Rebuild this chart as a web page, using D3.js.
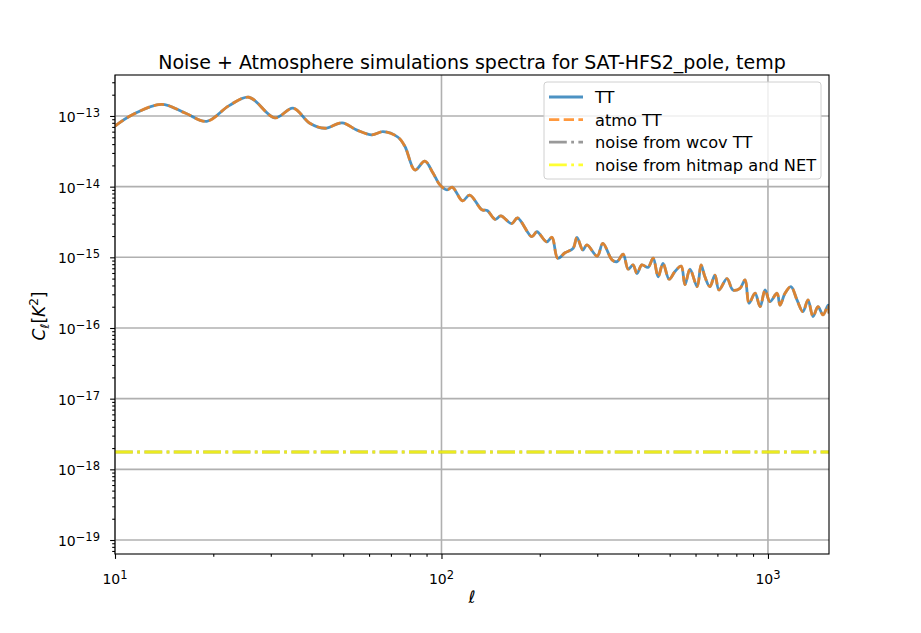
<!DOCTYPE html>
<html>
<head>
<meta charset="utf-8">
<script src="https://cdn.jsdelivr.net/npm/d3@7"></script>
<style>
  body { margin: 0; background: #fff; }
  svg { font-family: "DejaVu Sans", sans-serif; }
</style>
</head>
<body>
<svg id="chart" width="921" height="633"></svg>
<script>
// Multipoles
var ellValues = [10, 11.3, 13.9, 16.4, 19.1, 22.3, 25.7, 30.9, 35.1, 39.5,
  44, 49.6, 55.1, 61.2, 66.2, 73.6, 77.3, 82.9, 88.9, 94.2,
  98.9, 104, 108, 116, 122, 133, 138, 146, 152, 164,
  171, 189, 196, 210, 218, 227, 239, 253, 260, 271,
  279, 300, 312, 333, 345, 360, 373, 386, 397, 411,
  429, 445, 461, 477, 498, 519, 542, 557, 577, 607,
  624, 641, 664, 688, 708, 749, 781, 821, 851, 875,
  913, 946, 980, 1014, 1066, 1089, 1128, 1176, 1227, 1280,
  1326, 1374, 1423, 1475, 1528, 1538];

// TT spectrum (K^2)
var ttValues = [7.2e-14, 1.04e-13, 1.46e-13, 1.1e-13, 8.4e-14, 1.39e-13, 1.84e-13, 9.4e-14, 1.29e-13, 7.9e-14,
  6.7e-14, 8.0e-14, 6.3e-14, 5.4e-14, 6.0e-14, 5.0e-14, 3.7e-14, 1.72e-14, 2.3e-14, 1.56e-14,
  1.06e-14, 9.0e-15, 9.8e-15, 6.3e-15, 7.6e-15, 4.7e-15, 4.6e-15, 3.45e-15, 3.85e-15, 3.0e-15,
  3.6e-15, 1.96e-15, 2.3e-15, 1.66e-15, 1.92e-15, 9.7e-16, 1.16e-15, 1.34e-15, 1.92e-15, 1.27e-15,
  1.5e-15, 1.04e-15, 1.58e-15, 9.2e-16, 8.7e-16, 1.11e-15, 6.8e-16, 7.8e-16, 5.9e-16, 7.8e-16,
  7.2e-16, 9.7e-16, 5.3e-16, 8.2e-16, 4.9e-16, 6.3e-16, 7.5e-16, 4.1e-16, 6.8e-16, 3.85e-16,
  7.8e-16, 5.3e-16, 3.85e-16, 5.6e-16, 3.45e-16, 5.0e-16, 3.45e-16, 3.65e-16, 4.8e-16, 2.24e-16,
  3.1e-16, 2.0e-16, 3.45e-16, 2.36e-16, 3.1e-16, 2.1e-16, 3.1e-16, 3.85e-16, 2.5e-16, 1.7e-16,
  2.5e-16, 1.45e-16, 2.0e-16, 1.53e-16, 2.1e-16, 1.6e-16];

// atmo TT sits right on top of TT in the picture
var atmoValues = ttValues;

// flat noise levels
var noiseWcov = 1.76e-18;
var noiseHitmap = 1.76e-18;

var xTicks = [10, 100, 1000];
var xTickExp = ["1", "2", "3"];
var yTicks = [1e-13, 1e-14, 1e-15, 1e-16, 1e-17, 1e-18, 1e-19];
var yTickExp = ["\u221213", "\u221214", "\u221215", "\u221216", "\u221217", "\u221218", "\u221219"];

var legendLabels = ["TT", "atmo TT", "noise from wcov TT", "noise from hitmap and NET"];

// Layout
var margin = { left: 115, top: 75 };
var width = 714, height = 479;

var svg = d3.select("#chart");
var g = svg.append("g").attr("transform", "translate(" + margin.left + "," + margin.top + ")");

var x = d3.scaleLog().domain([10, 1538]).range([0, width]);
var y = d3.scaleLog().domain([6.34e-20, 3.8e-13]).range([height, 0]);

// grid lines (major only)
g.append("g").selectAll("line").data(xTicks).enter().append("line")
  .attr("x1", function (d) { return x(d); }).attr("x2", function (d) { return x(d); })
  .attr("y1", 0).attr("y2", height)
  .attr("stroke", "#b0b0b0").attr("stroke-width", 1.6);
g.append("g").selectAll("line").data(yTicks).enter().append("line")
  .attr("x1", 0).attr("x2", width)
  .attr("y1", function (d) { return y(d); }).attr("y2", function (d) { return y(d); })
  .attr("stroke", "#b0b0b0").attr("stroke-width", 1.6);

// lines
var line = d3.line()
  .x(function (d) { return x(d[0]); })
  .y(function (d) { return y(d[1]); })
  .curve(d3.curveCatmullRom.alpha(0.5));

var clip = g.append("clipPath").attr("id", "clip").append("rect")
  .attr("width", width).attr("height", height);
var plot = g.append("g").attr("clip-path", "url(#clip)");

var xEnds = x.domain();

plot.append("path")
  .datum(ellValues.map(function (l, i) { return [l, ttValues[i]]; }))
  .attr("d", line).attr("fill", "none")
  .attr("stroke", "#1f77b4").attr("stroke-opacity", 0.8).attr("stroke-width", 2.8);

plot.append("path")
  .datum(ellValues.map(function (l, i) { return [l, atmoValues[i]]; }))
  .attr("d", line).attr("fill", "none")
  .attr("stroke", "#ff7f0e").attr("stroke-opacity", 0.8).attr("stroke-width", 2.8)
  .attr("stroke-dasharray", "10.3,4.4");

plot.append("path")
  .datum(xEnds.map(function (l) { return [l, noiseWcov]; }))
  .attr("d", d3.line().x(function (d) { return x(d[0]); }).y(function (d) { return y(d[1]); }))
  .attr("fill", "none")
  .attr("stroke", "#7f7f7f").attr("stroke-opacity", 0.8).attr("stroke-width", 2.8)
  .attr("stroke-dasharray", "17.8,4.4,2.8,4.4");

plot.append("path")
  .datum(xEnds.map(function (l) { return [l, noiseHitmap]; }))
  .attr("d", d3.line().x(function (d) { return x(d[0]); }).y(function (d) { return y(d[1]); }))
  .attr("fill", "none")
  .attr("stroke", "#ffff00").attr("stroke-opacity", 0.8).attr("stroke-width", 2.8)
  .attr("stroke-dasharray", "17.8,4.4,2.8,4.4");

// minor ticks
var xMinor = [];
[10, 100, 1000].forEach(function (b) {
  for (var k = 2; k <= 9; k++) { if (b * k <= 1538) xMinor.push(b * k); }
});
var yMinor = [];
for (var e = -20; e <= -13; e++) {
  for (var k = 2; k <= 9; k++) {
    var v = k * Math.pow(10, e);
    if (v >= 6.34e-20 && v <= 3.8e-13) yMinor.push(v);
  }
}

var xAxis = g.append("g").attr("transform", "translate(0," + height + ")")
  .call(d3.axisBottom(x).tickValues(xTicks).tickSize(4.9).tickPadding(5).tickFormat(""));
var yAxis = g.append("g")
  .call(d3.axisLeft(y).tickValues(yTicks).tickSize(4.9).tickPadding(5).tickFormat(""));
g.append("g").attr("transform", "translate(0," + height + ")")
  .call(d3.axisBottom(x).tickValues(xMinor).tickSize(2.8).tickFormat(""))
  .select(".domain").remove();
g.append("g")
  .call(d3.axisLeft(y).tickValues(yMinor).tickSize(2.8).tickFormat(""))
  .select(".domain").remove();
g.selectAll(".tick line").attr("stroke", "#000").attr("stroke-width", 1.1);
g.selectAll(".domain").remove();

// spines
g.append("rect").attr("width", width).attr("height", height)
  .attr("fill", "none").attr("stroke", "#000").attr("stroke-width", 1.1);

// tick labels as 10^n
xTicks.forEach(function (d, i) {
  var t = g.append("text").attr("x", x(d)).attr("y", height + 30)
    .attr("text-anchor", "middle").attr("font-size", 14).attr("fill", "#000");
  t.append("tspan").text("10");
  t.append("tspan").attr("dy", -5).attr("font-size", 11.5).text(xTickExp[i]);
});
yTicks.forEach(function (d, i) {
  var t = g.append("text").attr("x", -15).attr("y", y(d) + 6)
    .attr("text-anchor", "end").attr("font-size", 14).attr("fill", "#000");
  t.append("tspan").text("10");
  t.append("tspan").attr("dy", -5).attr("font-size", 11.5).text(yTickExp[i]);
});

// title and axis labels
svg.append("text").attr("x", margin.left + width / 2).attr("y", 69)
  .attr("text-anchor", "middle").attr("font-size", 19)
  .text("Noise + Atmosphere simulations spectra for SAT-HFS2_pole, temp");

svg.append("text").attr("x", margin.left + width / 2).attr("y", 603)
  .attr("text-anchor", "middle").attr("font-size", 17).attr("font-style", "italic")
  .text("\u2113");

var yl = svg.append("text").attr("transform", "translate(45,316) rotate(-90)")
  .attr("text-anchor", "middle").attr("font-size", 17);
yl.append("tspan").attr("font-style", "italic").text("C");
yl.append("tspan").attr("font-style", "italic").attr("font-size", 12).attr("dy", 4).text("\u2113");
yl.append("tspan").attr("dy", -4).text("[");
yl.append("tspan").attr("font-style", "italic").text("K");
yl.append("tspan").attr("font-size", 12).attr("dy", -7).text("2");
yl.append("tspan").attr("dy", 7).text("]");

// legend
var legend = svg.append("g").attr("transform", "translate(544,82)");
legend.append("rect").attr("width", 277).attr("height", 97).attr("rx", 3)
  .attr("fill", "#fff").attr("fill-opacity", 0.8)
  .attr("stroke", "#d0d0d0").attr("stroke-width", 1);

var legendStyles = [
  { color: "#1f77b4", dash: null },
  { color: "#ff7f0e", dash: "10.3,4.4" },
  { color: "#7f7f7f", dash: "17.8,4.4,2.8,4.4" },
  { color: "#ffff00", dash: "17.8,4.4,2.8,4.4" }
];
legendLabels.forEach(function (lab, i) {
  var yy = 15 + i * 22.6;
  legend.append("line").attr("x1", 5).attr("x2", 39).attr("y1", yy).attr("y2", yy)
    .attr("stroke", legendStyles[i].color).attr("stroke-opacity", 0.8)
    .attr("stroke-width", 2.8)
    .attr("stroke-dasharray", legendStyles[i].dash);
  legend.append("text").attr("x", 51).attr("y", yy + 6)
    .attr("font-size", 16.2).attr("fill", "#000").text(lab);
});
</script>
</body>
</html>
